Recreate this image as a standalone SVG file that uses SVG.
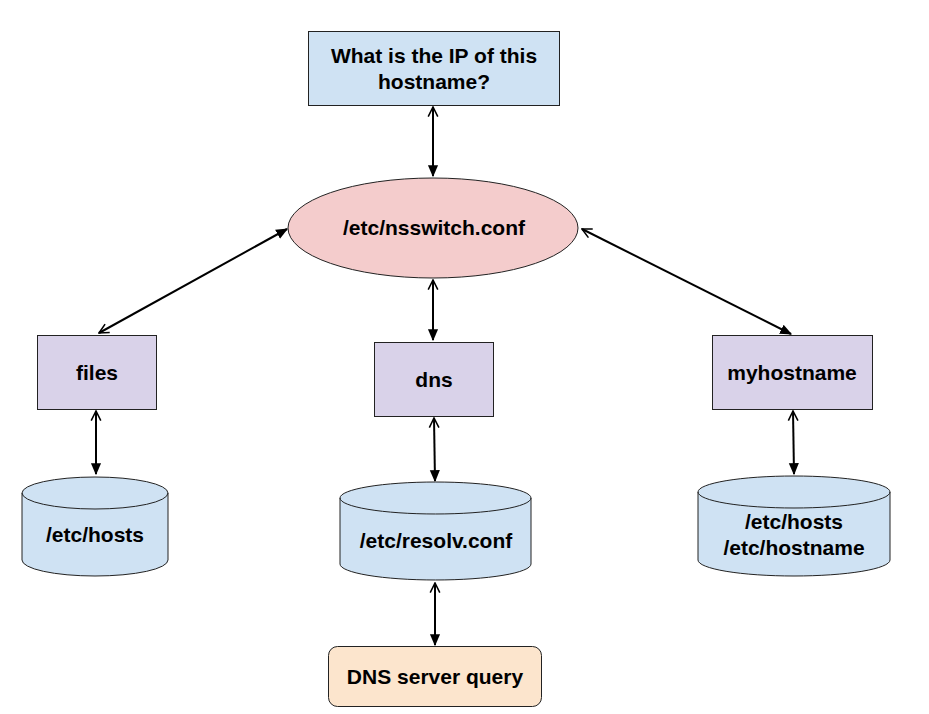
<svg xmlns="http://www.w3.org/2000/svg" width="929" height="714" viewBox="0 0 929 714">
<defs>
<style>
.t{font-family:"Liberation Sans",Arial,sans-serif;font-weight:bold;font-size:21px;fill:#000;text-anchor:middle}
.box{stroke:#222;stroke-width:1}
.blue{fill:#cfe2f3}
.purple{fill:#d9d2e9}
.pink{fill:#f4cccc}
.orange{fill:#fce5cd}
.c{stroke:#000;stroke-width:2;fill:none;marker-start:url(#open);marker-end:url(#fill)}
</style>
<marker id="fill" viewBox="0 0 10 10" refX="9" refY="5" markerWidth="6" markerHeight="6" orient="auto" markerUnits="strokeWidth">
<path d="M0,0.8 L10,5 L0,9.2 Z" fill="#000"/>
</marker>
<marker id="open" viewBox="0 0 10 10" refX="1" refY="5" markerWidth="6" markerHeight="6" orient="auto" markerUnits="strokeWidth">
<path d="M9,1 L1,5 L9,9" fill="none" stroke="#000" stroke-width="1.3"/>
</marker>
</defs>
<rect width="929" height="714" fill="#fff"/>
<g id="connectors">
<line class="c" x1="433" y1="107" x2="433" y2="176"/>
<line class="c" x1="433" y1="280" x2="433" y2="340"/>
<line class="c" x1="434" y1="418" x2="435" y2="481"/>
<line class="c" x1="435" y1="583" x2="435" y2="645"/>
<line class="c" x1="96" y1="411" x2="96" y2="474"/>
<line class="c" x1="793" y1="411" x2="794" y2="474"/>
<line class="c" x1="99" y1="333" x2="287" y2="229"/>
<line class="c" x1="582" y1="229" x2="791" y2="334"/>
</g>
<g id="question">
<rect class="box blue" x="308.5" y="31.5" width="251" height="74"/>
<text class="t" x="434" y="63">What is the IP of this</text>
<text class="t" x="434" y="89">hostname?</text>
</g>
<g id="nsswitch">
<ellipse class="box pink" cx="433" cy="228" rx="145" ry="50"/>
<text class="t" x="434" y="235">/etc/nsswitch.conf</text>
</g>
<g id="files">
<rect class="box purple" x="37.5" y="335.5" width="119" height="74"/>
<text class="t" x="97" y="380">files</text>
</g>
<g id="dns">
<rect class="box purple" x="374.5" y="342.5" width="119" height="74"/>
<text class="t" x="434" y="387">dns</text>
</g>
<g id="myhostname">
<rect class="box purple" x="712.5" y="335.5" width="160" height="74"/>
<text class="t" x="792" y="380">myhostname</text>
</g>
<g id="etchosts">
<path class="box blue" d="M22,493 A73,16 0 0 1 168,493 L168,560 A73,16 0 0 1 22,560 Z"/>
<path class="box" fill="none" d="M22,493 A73,16 0 0 0 168,493"/>
<text class="t" x="95" y="542">/etc/hosts</text>
</g>
<g id="resolv">
<path class="box blue" d="M340,498 A95.5,16 0 0 1 531,498 L531,564 A95.5,16 0 0 1 340,564 Z"/>
<path class="box" fill="none" d="M340,498 A95.5,16 0 0 0 531,498"/>
<text class="t" x="436" y="548">/etc/resolv.conf</text>
</g>
<g id="hostsfiles">
<path class="box blue" d="M698,492 A96,16 0 0 1 890,492 L890,560 A96,16 0 0 1 698,560 Z"/>
<path class="box" fill="none" d="M698,492 A96,16 0 0 0 890,492"/>
<text class="t" x="794" y="529">/etc/hosts</text>
<text class="t" x="794" y="555">/etc/hostname</text>
</g>
<g id="dnsquery">
<rect class="box orange" x="328.5" y="646.5" width="213" height="60" rx="9"/>
<text class="t" x="435" y="684">DNS server query</text>
</g>
</svg>
